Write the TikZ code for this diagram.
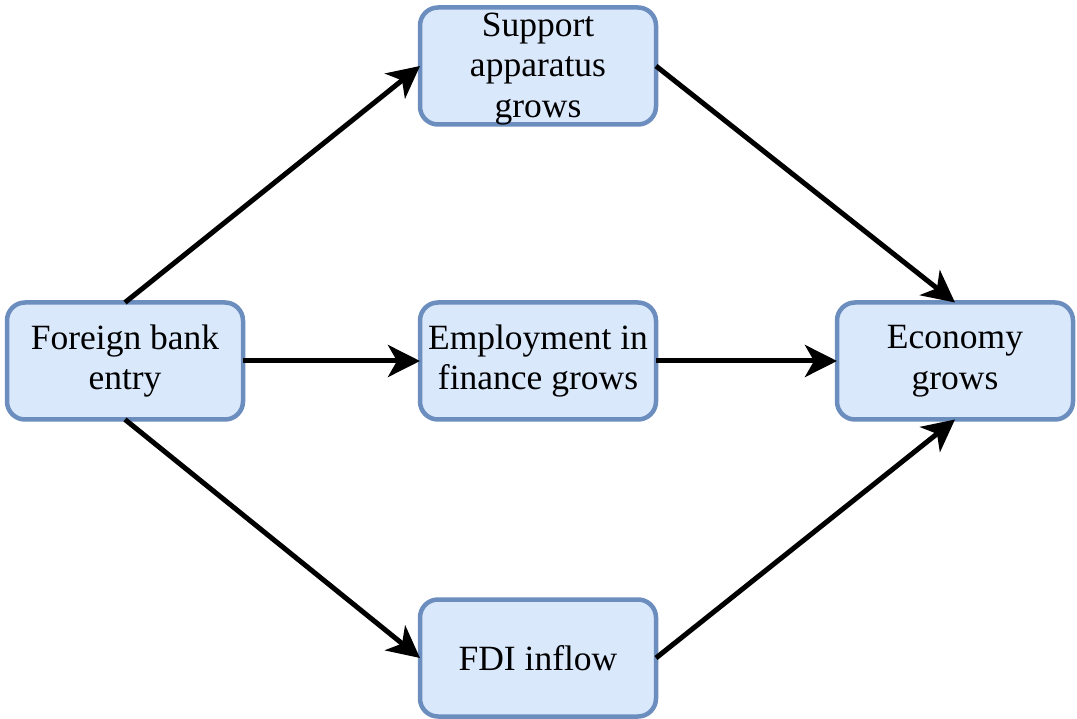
\documentclass[tikz,border=0pt]{standalone}
\usepackage{fontspec}
\setmainfont{Liberation Serif}
\usetikzlibrary{arrows.meta}
\definecolor{boxfill}{HTML}{DAE8FC}
\definecolor{boxline}{HTML}{6C8EBF}
\begin{document}
\begin{tikzpicture}[x=1pt,y=-1pt,
  stagebox/.style={draw=boxline, fill=boxfill, line width=4.5pt, rounded corners=18pt,
    minimum width=236pt, minimum height=117pt, inner sep=0pt, outer sep=0pt,
    align=center, font=\fontsize{35.5}{40.5}\selectfont},
  flow/.style={line width=5pt, draw=black,
    -{Stealth[length=32pt, width=32pt, inset=9pt]}}]
  \useasboundingbox (0,0) rectangle (1077,719);

  % stages of the causal chain
  \node[stagebox] (bank)    at (125,361) {Foreign bank\\entry};
  \node[stagebox] (support) at (538,66)  {};
  \node[align=center, font=\fontsize{35.5}{40.5}\selectfont] (supporttext) at (538,69)
    {Support\\apparatus\\grows};
  \node[stagebox] (employ)  at (538,361) {Employment in\\finance grows};
  \node[stagebox] (economy) at (955,361) {Economy\\grows};
  \node[stagebox] (fdi)     at (538,658) {FDI inflow};

  % channels
  \draw[flow] (bank.north) -- (support.west);
  \draw[flow] (bank.east) -- (employ.west);
  \draw[flow] (bank.south) -- (fdi.west);
  \draw[flow] (support.east) -- (economy.north);
  \draw[flow] (employ.east) -- (economy.west);
  \draw[flow] (fdi.east) -- (economy.south);
\end{tikzpicture}
\end{document}
